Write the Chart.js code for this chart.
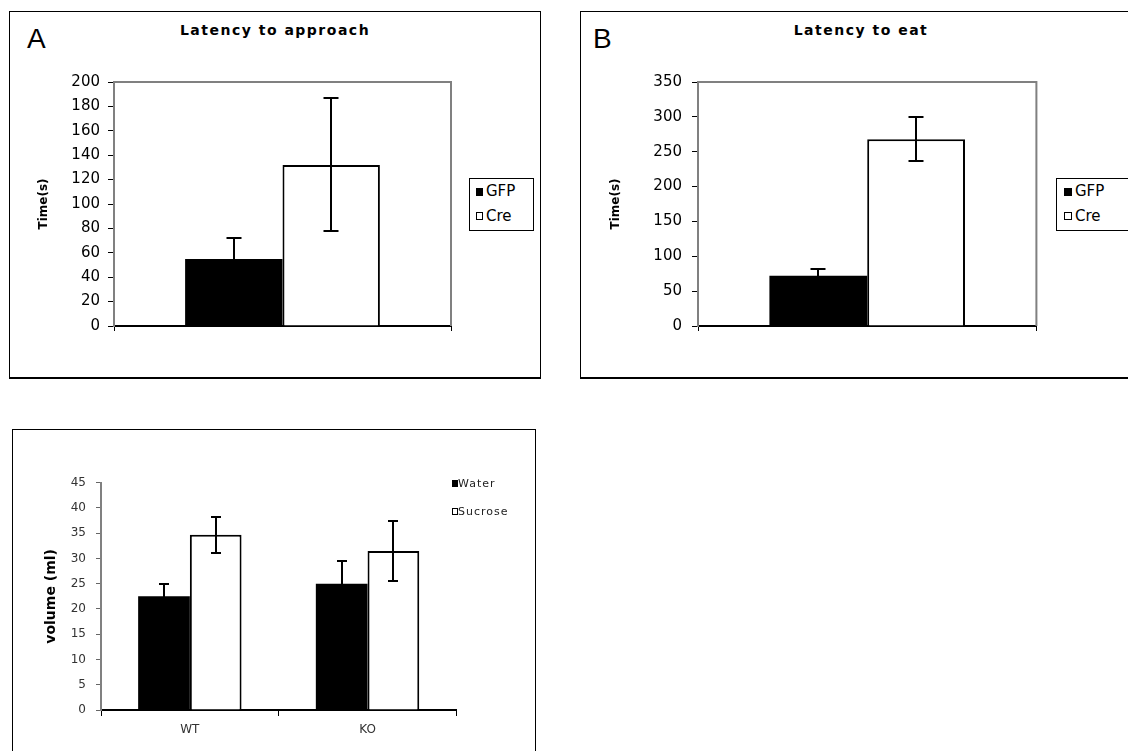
<!DOCTYPE html>
<html>
<head>
<meta charset="utf-8">
<script src="https://cdn.jsdelivr.net/npm/chart.js@4.4.1/dist/chart.umd.min.js"></script>
<style>
  html, body { margin:0; padding:0; background:#fff; }
  body { width:1128px; height:751px; overflow:hidden; position:relative; font-family:'DejaVu Sans', sans-serif; }
  .frame { position:absolute; box-sizing:border-box; border:1px solid #000; }
  canvas { position:absolute; }
  .txt { position:absolute; white-space:nowrap; color:#000; }
  .panel-letter { font-family:'Liberation Sans', Arial, sans-serif; font-size:28px; line-height:28px; }
  .title { font-family:'DejaVu Sans', sans-serif; font-weight:bold; font-size:14px; line-height:16px; letter-spacing:1.5px; text-align:center; width:240px; }
  .legbox { position:absolute; box-sizing:border-box; border:1px solid #000; background:#fff; }
  .sq { position:absolute; box-sizing:border-box; }
  .sq.fill { background:#000; }
  .sq.hollow { background:#fff; border:1.5px solid #000; }
  .legtxt { font-size:15px; line-height:17px; }
  .legtxt-s { font-size:11px; line-height:13px; letter-spacing:1px; color:#222; }
</style>
</head>
<body>

<!-- panel frames -->
<div class="frame" style="left:9px; top:11px; width:532px; height:368px; border-bottom-width:2px;"></div>
<div class="frame" style="left:580px; top:11px; width:560px; height:368px; border-bottom-width:2px;"></div>
<div class="frame" style="left:12px; top:429px; width:524px; height:340px;"></div>

<!-- panel letters and titles -->
<div class="txt panel-letter" style="left:27px; top:25px;">A</div>
<div class="txt panel-letter" style="left:593px; top:25px;">B</div>
<div class="txt title" style="left:155px; top:22px;">Latency to approach</div>
<div class="txt title" style="left:741px; top:22px;">Latency to eat</div>

<canvas id="chartA" width="530" height="365" style="left:10px; top:12px; width:530px; height:365px;"></canvas>
<canvas id="chartB" width="547" height="365" style="left:581px; top:12px; width:547px; height:365px;"></canvas>
<canvas id="chartC" width="522" height="321" style="left:13px; top:430px; width:522px; height:321px;"></canvas>

<!-- legend A -->
<div class="legbox" style="left:469px; top:178px; width:65px; height:53px;"></div>
<div class="sq fill" style="left:476px; top:188px; width:7px; height:8px;"></div>
<div class="txt legtxt" style="left:486px; top:183px;">GFP</div>
<div class="sq hollow" style="left:476px; top:212px; width:7px; height:8px;"></div>
<div class="txt legtxt" style="left:486px; top:208px;">Cre</div>

<!-- legend B -->
<div class="legbox" style="left:1056px; top:178px; width:90px; height:53px;"></div>
<div class="sq fill" style="left:1064px; top:188px; width:8px; height:8px;"></div>
<div class="txt legtxt" style="left:1075px; top:183px;">GFP</div>
<div class="sq hollow" style="left:1064px; top:212px; width:8px; height:8px;"></div>
<div class="txt legtxt" style="left:1075px; top:208px;">Cre</div>

<!-- legend C -->
<div class="sq fill" style="left:452px; top:480px; width:6px; height:7px;"></div>
<div class="txt legtxt-s" style="left:458px; top:477px;">Water</div>
<div class="sq hollow" style="left:452px; top:508px; width:6px; height:7px;"></div>
<div class="txt legtxt-s" style="left:458px; top:505px;">Sucrose</div>

<script>
// ---------------- data ----------------
const approachCategories = [''];
const approachGFP = [55];
const approachGFPErr = [17];
const approachCre = [132];
const approachCreErr = [54.5];

const eatCategories = [''];
const eatGFP = [72];
const eatGFPErr = [10];
const eatCre = [268];
const eatCreErr = [32];

const drinkGroups = ['WT', 'KO'];
const waterVolume = [22.5, 25.0];
const waterErr = [2.5, 4.5];
const sucroseVolume = [34.7, 31.5];
const sucroseErr = [3.6, 6.0];

// ---------------- plugins ----------------
const errorBars = {
  id: 'errorBars',
  afterDatasetsDraw(chart, args, opts) {
    const ctx = chart.ctx;
    const y = chart.scales.y;
    chart.data.datasets.forEach((ds, i) => {
      if (!ds.errors) return;
      const meta = chart.getDatasetMeta(i);
      meta.data.forEach((bar, j) => {
        const v = ds.data[j], e = ds.errors[j];
        const x = Math.round(bar.x);
        const yTop = Math.round(y.getPixelForValue(v + e));
        const yBot = Math.round(y.getPixelForValue(v - e));
        const hw = opts.capWidth / 2;
        ctx.save();
        ctx.strokeStyle = '#000';
        ctx.lineWidth = opts.lineWidth;
        ctx.beginPath();
        ctx.moveTo(x, yTop); ctx.lineTo(x, yBot);
        ctx.moveTo(x - hw, yTop); ctx.lineTo(x + hw, yTop);
        ctx.moveTo(x - hw, yBot); ctx.lineTo(x + hw, yBot);
        ctx.stroke();
        ctx.restore();
      });
    });
  }
};

const plotFrame = {
  id: 'plotFrame',
  beforeDatasetsDraw(chart, args, opts) {
    if (!opts.show) return;
    const { left, top, right, bottom } = chart.chartArea;
    const ctx = chart.ctx;
    ctx.save();
    ctx.strokeStyle = '#808080';
    ctx.lineWidth = 2;
    ctx.beginPath();
    ctx.moveTo(left, top);
    ctx.lineTo(right, top);
    ctx.lineTo(right, bottom);
    ctx.stroke();
    ctx.restore();
  }
};

Chart.defaults.font.family = "'DejaVu Sans', sans-serif";
Chart.defaults.color = '#000';

function latencyChart(id, cats, gfp, gfpErr, cre, creErr, yMax, yStep, yWidth, pad, titlePad, tickPad) {
  return new Chart(document.getElementById(id), {
    type: 'bar',
    data: {
      labels: cats,
      datasets: [
        { label: 'GFP', data: gfp, errors: gfpErr, backgroundColor: '#000', borderColor: '#000', borderWidth: 0,
          categoryPercentage: 0.578, barPercentage: 1.0 },
        { label: 'Cre', data: cre, errors: creErr, backgroundColor: '#fff', borderColor: '#000', borderWidth: 2,
          categoryPercentage: 0.578, barPercentage: 1.0 }
      ]
    },
    options: {
      responsive: false,
      animation: false,
      events: [],
      layout: { padding: pad },
      plugins: {
        legend: { display: false },
        tooltip: { enabled: false },
        title: { display: false },
        errorBars: { capWidth: 15, lineWidth: 2 },
        plotFrame: { show: true }
      },
      scales: {
        x: {
          type: 'category',
          offset: true,
          z: 1,
          ticks: { display: false },
          grid: { offset: true, drawOnChartArea: false, drawTicks: true, tickLength: 5, color: '#000', lineWidth: 1 },
          border: { display: true, color: '#000', width: 2 },
          afterFit(s) { s.height = 10; }
        },
        y: {
          min: 0, max: yMax,
          ticks: { stepSize: yStep, color: '#000', padding: tickPad, font: { size: 15 } },
          grid: { drawOnChartArea: false, drawTicks: true, tickLength: 6, color: '#000', lineWidth: 1 },
          border: { display: true, color: '#808080', width: 2 },
          title: { display: true, text: 'Time(s)', color: '#000', font: { size: 12, weight: 'bold' }, padding: { top: titlePad, bottom: 0 } },
          afterFit(s) { s.width = yWidth; }
        }
      }
    },
    plugins: [errorBars, plotFrame]
  });
}

latencyChart('chartA', approachCategories, approachGFP, approachGFPErr, approachCre, approachCreErr,
  200, 20, 80, { left: 24, top: 70, right: 89, bottom: 41 }, 2.4, 8);

latencyChart('chartB', eatCategories, eatGFP, eatGFPErr, eatCre, eatCreErr,
  350, 50, 100, { left: 17, top: 70, right: 91.6, bottom: 41 }, 10.5, 10);

new Chart(document.getElementById('chartC'), {
  type: 'bar',
  data: {
    labels: drinkGroups,
    datasets: [
      { label: 'Water', data: waterVolume, errors: waterErr, backgroundColor: '#000', borderColor: '#000', borderWidth: 0,
        categoryPercentage: 0.582, barPercentage: 1.0 },
      { label: 'Sucrose', data: sucroseVolume, errors: sucroseErr, backgroundColor: '#fff', borderColor: '#000', borderWidth: 2,
        categoryPercentage: 0.582, barPercentage: 1.0 }
    ]
  },
  options: {
    responsive: false,
    animation: false,
    events: [],
    layout: { padding: { left: 18, top: 52.7, right: 78.6, bottom: 1 } },
    plugins: {
      legend: { display: false },
      tooltip: { enabled: false },
      errorBars: { capWidth: 10, lineWidth: 2 },
      plotFrame: { show: false }
    },
    scales: {
      x: {
        type: 'category',
        offset: true,
        z: 1,
        ticks: { color: '#333', padding: 7, font: { size: 12 } },
        grid: { offset: true, drawOnChartArea: false, drawTicks: true, tickLength: 6, color: '#000', lineWidth: 1 },
        border: { display: true, color: '#000', width: 2 },
        afterFit(s) { s.height = 40; }
      },
      y: {
        min: 0, max: 45,
        ticks: { stepSize: 5, color: '#333', padding: 10, font: { size: 12 } },
        grid: { drawOnChartArea: false, drawTicks: true, tickLength: 5, color: '#666', lineWidth: 1 },
        border: { display: true, color: '#808080', width: 2 },
        title: { display: true, text: 'volume (ml)', color: '#000', font: { size: 14, weight: 'bold' }, padding: { top: 12.4, bottom: 0 } },
        afterFit(s) { s.width = 70; }
      }
    }
  },
  plugins: [errorBars, plotFrame]
});
</script>
</body>
</html>
